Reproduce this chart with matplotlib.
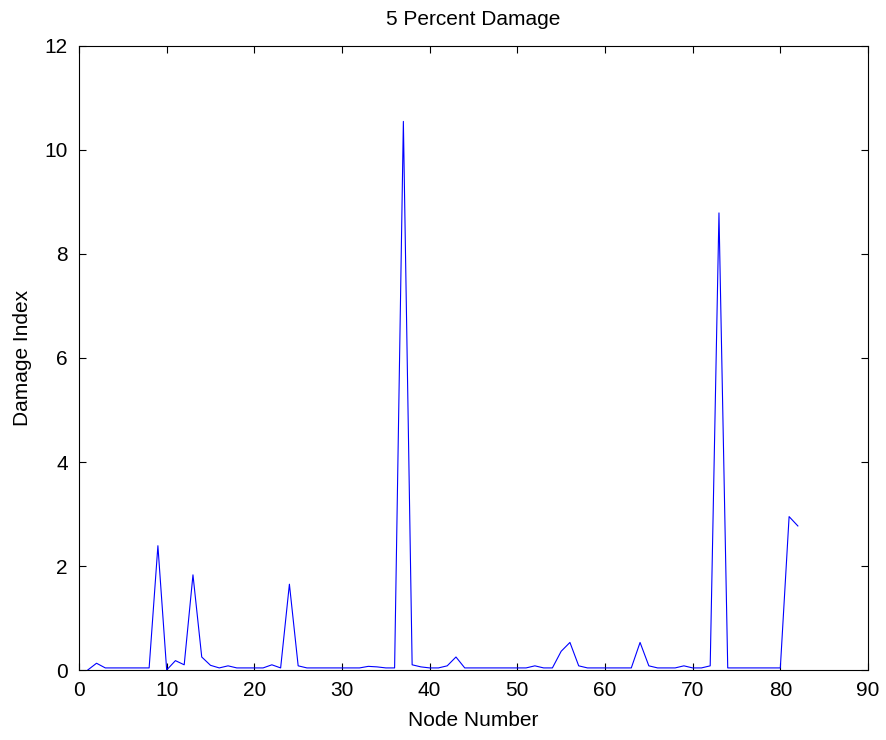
import matplotlib
matplotlib.use("Agg")
import matplotlib.pyplot as plt
import numpy as np

plt.rcParams['font.family'] = ['Liberation Sans', 'DejaVu Sans']

nodes = list(range(1, 83))
damage_index = [
    0.00, 0.13, 0.04, 0.04, 0.04, 0.04, 0.04, 0.04, 2.39, 0.00,   # 1-10
    0.18, 0.10, 1.83, 0.25, 0.09, 0.04, 0.08, 0.04, 0.04, 0.04,   # 11-20
    0.04, 0.10, 0.04, 1.65, 0.08, 0.04, 0.04, 0.04, 0.04, 0.04,   # 21-30
    0.04, 0.04, 0.07, 0.06, 0.04, 0.04, 10.55, 0.10, 0.06, 0.04,  # 31-40
    0.04, 0.08, 0.25, 0.04, 0.04, 0.04, 0.04, 0.04, 0.04, 0.04,   # 41-50
    0.04, 0.08, 0.04, 0.04, 0.36, 0.53, 0.08, 0.04, 0.04, 0.04,   # 51-60
    0.04, 0.04, 0.04, 0.53, 0.08, 0.04, 0.04, 0.04, 0.08, 0.04,   # 61-70
    0.04, 0.08, 8.79, 0.04, 0.04, 0.04, 0.04, 0.04, 0.04, 0.04,   # 71-80
    2.95, 2.77,                                                  # 81-82
]

title = "5 Percent Damage"
xlabel = "Node Number"
ylabel = "Damage Index"
xticks = [0, 10, 20, 30, 40, 50, 60, 70, 80, 90]
yticks = [0, 2, 4, 6, 8, 10, 12]

fig = plt.figure(figsize=(8.86, 7.40), dpi=100)
ax = fig.add_axes([79/886, (740-670)/740, (868-79)/886, (670-46)/740])
ax.plot(nodes, damage_index, color=(0, 0, 1), linewidth=0.8)
ax.set_xlim(0, 90)
ax.set_ylim(0, 12)
ax.set_xticks(xticks)
ax.set_yticks(yticks)
ax.tick_params(direction='in', length=5, width=0.8, top=True, right=True,
               labelsize=15, pad=8)
for s in ax.spines.values():
    s.set_linewidth(0.8)
ax.set_title(title, fontsize=15, pad=15)
ax.set_xlabel(xlabel, fontsize=15, labelpad=8)
ax.set_ylabel(ylabel, fontsize=15, labelpad=9)
fig.savefig("out.png", dpi=100)
